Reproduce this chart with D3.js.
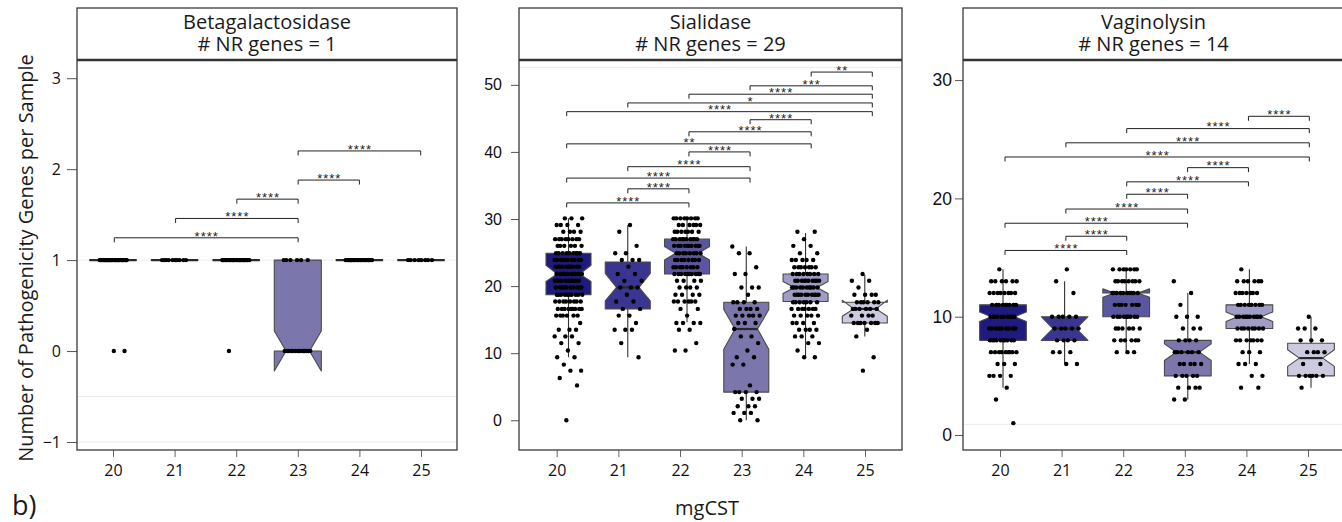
<!DOCTYPE html>
<html>
<head>
<meta charset="utf-8">
<script src="https://cdn.jsdelivr.net/npm/d3@7"></script>
<style>
  body { margin: 0; background: #fff; }
  svg { display: block; font-family: "Open Sans", Lato, sans-serif; }
</style>
</head>
<body>
<svg id="chart" width="1342" height="522"></svg>
<script>
// ---- data ----
const categories = ['20', '21', '22', '23', '24', '25'];
const panelTitles = ['Betagalactosidase', 'Sialidase', 'Vaginolysin'];
const nrGenes = [1, 29, 14];
const boxColors = ['#1e1a80', '#3a3591', '#5b56a0', '#7b76ab', '#9f9cc5', '#cbcadf'];

const betaTicks = [-1, 0, 1, 2, 3];
const sialTicks = [0, 10, 20, 30, 40, 50];
const vagTicks = [0, 10, 20, 30];

// box stats per category: [lowWhisker, q1, median, q3, highWhisker, notchLow, notchHigh]
const betaBoxes = [
  [1, 1, 1, 1, 1, 1, 1], [1, 1, 1, 1, 1, 1, 1], [1, 1, 1, 1, 1, 1, 1],
  [0, 0, 0, 1, 1, -0.22, 0.22], [1, 1, 1, 1, 1, 1, 1], [1, 1, 1, 1, 1, 1, 1]
];
const sialBoxes = [
  [9.4, 18.7, 21.8, 24.9, 30.1, 20.7, 23.1],
  [9.4, 16.6, 19.8, 23.6, 29.1, 17.8, 21.9],
  [14.6, 21.8, 24.9, 27.0, 30.1, 23.9, 25.9],
  [0, 4.2, 13.6, 17.6, 25.9, 10.6, 16.5],
  [9.4, 17.7, 19.8, 21.8, 27.9, 18.9, 20.7],
  [12.5, 14.5, 16.6, 17.6, 21.7, 15.5, 17.9]
];
const vagBoxes = [
  [4, 8, 10, 11, 14, 9.6, 10.4],
  [6, 8, 9, 10, 13, 8, 10],
  [7, 10, 12, 12, 14, 11.65, 12.35],
  [3, 5, 7, 8, 12, 6.3, 7.7],
  [6, 9, 10, 11, 14, 9.6, 10.4],
  [4, 5, 6.5, 7.75, 10, 5.8, 7.2]
];

// sample points: [category, value, number of samples]
const betaCounts = [
  ['20', 1, 30], ['20', 0, 2], ['21', 1, 10], ['22', 1, 25], ['22', 0, 1],
  ['23', 1, 6], ['23', 0, 14], ['24', 1, 22], ['25', 1, 8]
];
const sialCounts = [
  ['20', 30.1, 3], ['20', 29.1, 4], ['20', 28.1, 4], ['20', 27.0, 8], ['20', 26.0, 6],
  ['20', 24.9, 9], ['20', 23.9, 10], ['20', 22.9, 10], ['20', 21.8, 11], ['20', 20.8, 11],
  ['20', 19.8, 10], ['20', 18.7, 10], ['20', 17.7, 8], ['20', 16.6, 9], ['20', 15.6, 6],
  ['20', 14.5, 1], ['20', 13.5, 3], ['20', 12.5, 3], ['20', 11.5, 2], ['20', 10.4, 1],
  ['20', 9.4, 2], ['20', 8.3, 1], ['20', 7.4, 2], ['20', 6.3, 1], ['20', 5.2, 1], ['20', 0, 1],
  ['21', 29.1, 1], ['21', 28.1, 1], ['21', 26.0, 1], ['21', 24.9, 2], ['21', 23.9, 3],
  ['21', 22.9, 1], ['21', 21.8, 2], ['21', 20.8, 2], ['21', 19.8, 3], ['21', 18.7, 1],
  ['21', 17.7, 2], ['21', 16.6, 2], ['21', 15.6, 2], ['21', 14.5, 1], ['21', 13.5, 3],
  ['21', 11.5, 1], ['21', 9.4, 1],
  ['22', 30.1, 8], ['22', 29.1, 6], ['22', 28.1, 7], ['22', 27.0, 10], ['22', 26.0, 10],
  ['22', 24.9, 8], ['22', 23.9, 8], ['22', 22.8, 8], ['22', 21.8, 10], ['22', 20.8, 4],
  ['22', 19.8, 4], ['22', 18.7, 4], ['22', 17.7, 6], ['22', 16.6, 2], ['22', 15.6, 1],
  ['22', 14.5, 4], ['22', 13.5, 2], ['22', 11.5, 1], ['22', 10.4, 2],
  ['23', 25.9, 1], ['23', 24.9, 2], ['23', 22.8, 1], ['23', 21.8, 2], ['23', 19.8, 3],
  ['23', 18.7, 1], ['23', 17.6, 4], ['23', 16.6, 4], ['23', 15.6, 5], ['23', 14.5, 3],
  ['23', 13.6, 1], ['23', 12.5, 2], ['23', 11.5, 1], ['23', 10.4, 1], ['23', 9.4, 2],
  ['23', 8.3, 2], ['23', 5.2, 1], ['23', 4.2, 4], ['23', 3.2, 3], ['23', 2.1, 3],
  ['23', 1.1, 3], ['23', 0, 2],
  ['24', 28.1, 2], ['24', 27.0, 1], ['24', 26.0, 2], ['24', 24.9, 2], ['24', 23.9, 5],
  ['24', 22.8, 7], ['24', 21.8, 8], ['24', 20.8, 10], ['24', 19.8, 10], ['24', 18.7, 10],
  ['24', 17.6, 7], ['24', 16.6, 7], ['24', 15.6, 5], ['24', 14.5, 4], ['24', 13.5, 4],
  ['24', 12.5, 3], ['24', 11.5, 2], ['24', 10.4, 1], ['24', 9.4, 2],
  ['25', 21.8, 1], ['25', 20.8, 2], ['25', 19.8, 1], ['25', 18.7, 4], ['25', 17.6, 6],
  ['25', 16.6, 6], ['25', 15.6, 4], ['25', 14.5, 7], ['25', 13.5, 1], ['25', 12.5, 1],
  ['25', 9.4, 1], ['25', 7.4, 1]
];
const vagCounts = [
  ['20', 14, 1], ['20', 13, 6], ['20', 12, 8], ['20', 11, 9], ['20', 10, 10], ['20', 9, 10],
  ['20', 8, 10], ['20', 7, 9], ['20', 6, 3], ['20', 5, 4], ['20', 4, 1], ['20', 3, 1], ['20', 1, 1],
  ['21', 14, 1], ['21', 13, 1], ['21', 12, 1], ['21', 10, 5], ['21', 9, 5], ['21', 8, 4],
  ['21', 7, 3], ['21', 6, 2],
  ['22', 14, 7], ['22', 13, 8], ['22', 12, 10], ['22', 11, 7], ['22', 10, 9], ['22', 9, 6],
  ['22', 8, 6], ['22', 7, 3],
  ['23', 13, 1], ['23', 12, 1], ['23', 11, 1], ['23', 10, 3], ['23', 9, 3], ['23', 8, 4],
  ['23', 7, 6], ['23', 6, 5], ['23', 5, 5], ['23', 4, 4], ['23', 3, 2],
  ['24', 14, 1], ['24', 13, 6], ['24', 12, 7], ['24', 11, 8], ['24', 10, 10], ['24', 9, 8],
  ['24', 8, 7], ['24', 7, 3], ['24', 6, 3], ['24', 5, 2], ['24', 4, 2],
  ['25', 10, 1], ['25', 9, 3], ['25', 8, 3], ['25', 7, 4], ['25', 6, 2], ['25', 5, 6], ['25', 4, 1]
];

// pairwise comparisons: [from, to, label, height]
const betaBrackets = [
  ['20', '23', '****', 1.245], ['21', '23', '****', 1.458], ['22', '23', '****', 1.67],
  ['23', '24', '****', 1.88], ['23', '25', '****', 2.2]
];
const sialBrackets = [
  ['24', '25', '**', 51.9], ['23', '25', '***', 49.85], ['22', '25', '****', 48.6],
  ['21', '25', '*', 47.3], ['20', '25', '****', 46.0], ['23', '24', '****', 44.8],
  ['22', '24', '****', 43.0], ['20', '24', '**', 41.2], ['22', '23', '****', 40.0],
  ['21', '23', '****', 37.8], ['20', '23', '****', 36.1], ['21', '22', '****', 34.5],
  ['20', '22', '****', 32.4]
];
const vagBrackets = [
  ['24', '25', '****', 26.94], ['22', '25', '****', 25.9], ['21', '25', '****', 24.7],
  ['20', '25', '****', 23.5], ['23', '24', '****', 22.6], ['22', '24', '****', 21.4],
  ['22', '23', '****', 20.35], ['21', '23', '****', 19.1], ['20', '23', '****', 17.9],
  ['21', '22', '****', 16.8], ['20', '22', '****', 15.6]
];

// faint reference lines
const betaRefs = [1, -0.5, -1];
const sialRefs = [52.6];
const vagRefs = [0.9];

// ---- layout ----
const stripTop = 8, stripBottom = 60, plotBottom = 450;
const panels = [
  { left: 77, right: 457, yDomain: [-1.088, 3.2], ticks: betaTicks, tickLen: 10, tickPad: 6,
    tickFont: '"Open Sans", sans-serif', tickSize: 16,
    axisRange: [113, 421], markRange: [113, 421], bracketRange: [114.3, 420.7], boxW: 47,
    boxes: betaBoxes, counts: betaCounts, brackets: betaBrackets, refs: betaRefs },
  { left: 519, right: 902, yDomain: [-4.43, 53.7], ticks: sialTicks, tickLen: 8, tickPad: 9,
    tickFont: '"Liberation Sans", Arial, sans-serif', tickSize: 16,
    axisRange: [556.7, 865], markRange: [568.5, 864.8], bracketRange: [566.7, 872.3], boxW: 45,
    boxes: sialBoxes, counts: sialCounts, brackets: sialBrackets, refs: sialRefs },
  { left: 963, right: 1344, yDomain: [-1.27, 31.7], ticks: vagTicks, tickLen: 8, tickPad: 3,
    tickFont: '"Liberation Sans", Arial, sans-serif', tickSize: 17.5,
    axisRange: [1000, 1308], markRange: [1003, 1311], bracketRange: [1005, 1309.3], boxW: 46.7,
    boxes: vagBoxes, counts: vagCounts, brackets: vagBrackets, refs: vagRefs }
];

const svg = d3.select('#chart');

panels.forEach((p, pi) => {
  const g = svg.append('g');
  const y = d3.scaleLinear().domain(p.yDomain).range([plotBottom, stripBottom]);
  const xAxis = d3.scalePoint().domain(categories).range(p.axisRange);
  const xMark = d3.scalePoint().domain(categories).range(p.markRange);
  const xBr = d3.scalePoint().domain(categories).range(p.bracketRange);
  const color = d3.scaleOrdinal().domain(categories).range(boxColors);

  // clip to the plotting area
  const clipId = 'clip' + pi;
  svg.append('clipPath').attr('id', clipId).append('rect')
    .attr('x', p.left).attr('y', stripBottom).attr('width', p.right - p.left)
    .attr('height', plotBottom - stripBottom);
  const plot = g.append('g').attr('clip-path', `url(#${clipId})`);

  // faint reference lines
  plot.selectAll('line.ref').data(p.refs).join('line')
    .attr('class', 'ref')
    .attr('x1', p.left).attr('x2', p.right)
    .attr('y1', d => y(d)).attr('y2', d => y(d))
    .attr('stroke', '#ebebeb').attr('stroke-width', 1);

  const boxData = categories.map((c, i) => ({ cat: c, s: p.boxes[i] }));

  // whiskers
  plot.selectAll('line.whisker').data(boxData).join('line')
    .attr('class', 'whisker')
    .attr('x1', d => xMark(d.cat)).attr('x2', d => xMark(d.cat))
    .attr('y1', d => y(d.s[0])).attr('y2', d => y(d.s[4]))
    .attr('stroke', '#333').attr('stroke-width', 1.1);

  // notched boxes
  const notchPath = d => {
    const [, q1, med, q3, , nLo, nHi] = d.s;
    const x0 = xMark(d.cat) - p.boxW / 2, x1 = xMark(d.cat) + p.boxW / 2;
    const ind = p.boxW * 0.25;
    const pts = [
      [x0, y(q3)], [x0, y(nHi)], [x0 + ind, y(med)], [x0, y(nLo)], [x0, y(q1)],
      [x1, y(q1)], [x1, y(nLo)], [x1 - ind, y(med)], [x1, y(nHi)], [x1, y(q3)]
    ];
    return 'M' + pts.map(q => q.join(',')).join('L') + 'Z';
  };
  plot.selectAll('path.box').data(boxData).join('path')
    .attr('class', 'box')
    .attr('d', notchPath)
    .attr('fill', d => color(d.cat))
    .attr('stroke', '#4a4a4a').attr('stroke-width', 1.1)
    .attr('stroke-linejoin', 'round');

  // medians
  plot.selectAll('line.median').data(boxData).join('line')
    .attr('class', 'median')
    .attr('x1', d => xMark(d.cat) - p.boxW * 0.25 - (d.s[1] === d.s[3] ? p.boxW * 0.25 : 0))
    .attr('x2', d => xMark(d.cat) + p.boxW * 0.25 + (d.s[1] === d.s[3] ? p.boxW * 0.25 : 0))
    .attr('y1', d => y(d.s[2])).attr('y2', d => y(d.s[2]))
    .attr('stroke', '#2a2a2a').attr('stroke-width', 2.2);

  // jittered sample points (deterministic golden-ratio spread)
  const pts = [];
  const seen = {};
  p.counts.forEach(([cat, v, n]) => {
    seen[cat] = seen[cat] || 0;
    for (let m = 0; m < n; m++) {
      const k = seen[cat]++;
      const u = ((k * 0.618034 + 0.37 + categories.indexOf(cat) * 0.21) % 1) * 2 - 1;
      pts.push({ cat, v, dx: u * 14 });
    }
  });
  plot.selectAll('circle.pt').data(pts).join('circle')
    .attr('class', 'pt')
    .attr('cx', d => xMark(d.cat) + d.dx)
    .attr('cy', d => y(d.v))
    .attr('r', 2.2)
    .attr('fill', '#000');

  // significance brackets
  const br = g.append('g');
  br.selectAll('path').data(p.brackets).join('path')
    .attr('d', d => {
      const x1 = xBr(d[0]), x2 = xBr(d[1]), yy = y(d[3]);
      return `M${x1},${yy + 4.5}V${yy}H${x2}V${yy + 4.5}`;
    })
    .attr('fill', 'none').attr('stroke', '#222').attr('stroke-width', 1);
  br.selectAll('text').data(p.brackets).join('text')
    .attr('x', d => (xBr(d[0]) + xBr(d[1])) / 2 + 0.5)
    .attr('y', d => y(d[3]) + 2.8)
    .attr('text-anchor', 'middle')
    .style('font-family', '"Liberation Sans", Arial, sans-serif')
    .style('font-size', '13px')
    .style('letter-spacing', '1px')
    .attr('fill', '#222')
    .text(d => d[2]);

  // axes
  const ya = g.append('g').attr('transform', `translate(${p.left},0)`)
    .call(d3.axisLeft(y).tickValues(p.ticks).tickSize(p.tickLen).tickPadding(p.tickPad)
      .tickFormat(d3.format('d')));
  ya.select('.domain').remove();
  ya.selectAll('line').attr('stroke', '#555');
  ya.selectAll('text').style('font-family', p.tickFont).style('font-size', p.tickSize + 'px')
    .attr('fill', '#111');

  const xa = g.append('g').attr('transform', `translate(0,${plotBottom})`)
    .call(d3.axisBottom(xAxis).tickSize(7).tickPadding(7.5));
  xa.select('.domain').remove();
  xa.selectAll('line').attr('stroke', '#666');
  xa.selectAll('text').style('font-family', '"Open Sans", sans-serif').style('font-size', '16px')
    .attr('fill', '#111');

  // panel frame and strip
  g.append('rect')
    .attr('x', p.left).attr('y', stripTop)
    .attr('width', p.right - p.left).attr('height', plotBottom - stripTop)
    .attr('fill', 'none').attr('stroke', '#3a3a3a').attr('stroke-width', 1.3);
  g.append('line')
    .attr('x1', p.left).attr('x2', p.right)
    .attr('y1', stripBottom).attr('y2', stripBottom)
    .attr('stroke', '#333').attr('stroke-width', 2.4);
  const cx = (p.left + p.right) / 2;
  g.append('text').attr('x', cx).attr('y', 29.3).attr('text-anchor', 'middle')
    .style('font-size', '20px').attr('fill', '#1a1a1a').text(panelTitles[pi]);
  g.append('text').attr('x', cx).attr('y', 50.5).attr('text-anchor', 'middle')
    .style('font-size', '20px').attr('fill', '#1a1a1a').text(`# NR genes = ${nrGenes[pi]}`);
});

// shared labels
svg.append('text')
  .attr('transform', 'translate(33,258) rotate(-90)')
  .attr('text-anchor', 'middle')
  .style('font-size', '20px').attr('fill', '#1a1a1a')
  .text('Number of Pathogenicity Genes per Sample');
svg.append('text')
  .attr('x', 707).attr('y', 515).attr('text-anchor', 'middle')
  .style('font-size', '20px').attr('fill', '#1a1a1a')
  .text('mgCST');
svg.append('text')
  .attr('x', 12).attr('y', 515)
  .style('font-size', '27px').attr('fill', '#1a1a1a')
  .text('b)');
</script>
</body>
</html>
